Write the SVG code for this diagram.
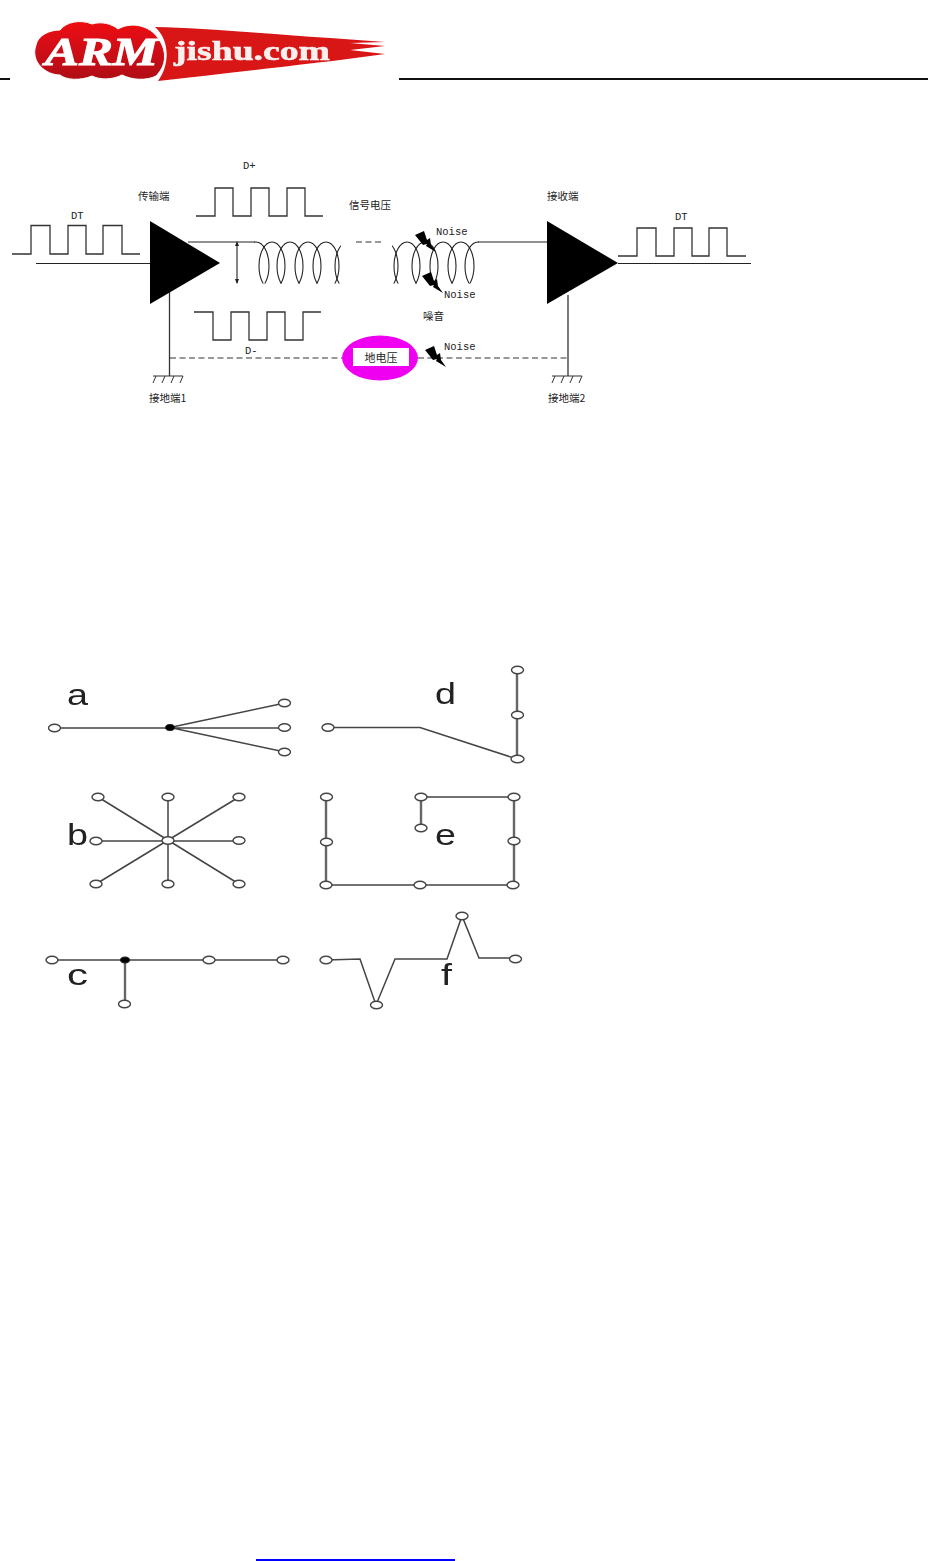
<svg xmlns="http://www.w3.org/2000/svg" width="928" height="1561" viewBox="0 0 928 1561">
<style>
.w{fill:none;stroke:#333;stroke-width:1.3}
.k{fill:none;stroke:#222;stroke-width:1.1}
.d{fill:none;stroke:#333;stroke-width:1.2;stroke-dasharray:6 3.5}
.cn{font-family:"Noto Sans CJK SC",sans-serif;font-size:10.5px;fill:#222}
.m{font-family:"Liberation Mono",monospace;font-size:10.5px;fill:#222}
.t{fill:none;stroke:#444;stroke-width:1.5}
.v{fill:none;stroke:#666;stroke-width:2.4}
.n{fill:#fff;stroke:#444;stroke-width:1.4}
.b{fill:#000;stroke:#222;stroke-width:1}
.l{font-family:"Liberation Sans",sans-serif;font-size:29px;fill:#222}
</style>
<defs>
<linearGradient id="rg" x1="0" y1="0" x2="0" y2="1"><stop offset="0" stop-color="#ee1111"/><stop offset="1" stop-color="#b01015"/></linearGradient>
<clipPath id="cl"><rect x="254" y="236" width="87" height="47.5"/></clipPath>
<clipPath id="cr"><rect x="392" y="236" width="87" height="47.5"/></clipPath>
<clipPath id="ct"><rect x="30" y="660" width="495.500" height="360"/></clipPath>
<filter id="s" x="-5%" y="-5%" width="110%" height="110%"><feGaussianBlur stdDeviation="0.45"/></filter>
<filter id="s2" x="-5%" y="-5%" width="110%" height="110%"><feGaussianBlur stdDeviation="0.3"/></filter>
<ellipse id="c" cx="0" cy="266" rx="13" ry="24" fill="none" stroke="#222" stroke-width="1.1"/>
<path id="bolt" d="M0 4 L9 0 L12 9 L15 7 L16 14 L21 21 L11 15 L12 13 L8 14 Z" fill="#000"/>
<path id="gnd" d="M0 0H30M3 0L0 7M12 0L9 7M21 0L18 7M30 0L27 7" fill="none" stroke="#333" stroke-width="1"/>
</defs>

<g id="header">
<path d="M0 79H10M399 79H928" stroke="#111" stroke-width="2" fill="none"/>
</g>
<g id="logo" filter="url(#s2)">
<path d="M155 27C200 28 260 33 330 38L385 42L350 43L385 46L350 50L385 54L340 60C290 66 220 74 158 81C170 65 170 40 155 27Z" fill="#d81316"/>
<path d="M36 45C38 35 50 30 60 30C66 22 80 19 92 24C102 21 112 24 118 29C132 21 150 26 158 38C168 52 166 66 156 76C146 81 132 80 122 75C112 80 100 80 92 76C80 81 66 80 60 75C46 75 30 62 36 45Z" fill="url(#rg)" stroke="#fff" stroke-width="1"/>
<text x="45" y="65" font-family="'Liberation Serif',serif" font-style="italic" font-weight="bold" font-size="39" fill="#fff" stroke="#fff" stroke-width="1" textLength="113" lengthAdjust="spacingAndGlyphs">ARM</text>
<text x="174" y="60" font-family="'Liberation Serif',serif" font-weight="bold" font-size="28" fill="#f8f0ee" stroke="#f8f0ee" stroke-width=".6" textLength="156" lengthAdjust="spacingAndGlyphs">jishu.com</text>
</g>

<g id="connectors">
<path class="w" d="M12 254H31V225.500H50V254H68V225.500H86V254H103V225.500H122V254H140"/>
<path class="k" d="M36 263.500H150"/>
<path class="w" d="M196 216H215V188H233V216H251V188H269V216H287V188H305V216H323"/>
<path class="w" d="M194 312H213V340H231V312H249V340H267V312H285V340H303V312H321"/>
<path class="k" d="M188 242H255M237 243V283"/>
<path d="M237 241L235 246H239ZM237 284L235 279H239Z" fill="#222"/>
<path class="d" d="M356 242H381"/>
<path class="k" d="M478 242H547"/>
<path class="k" d="M618 263.500H751"/>
<path class="w" d="M618 256H637V228H656V256H674V228H692V256H709V228H727V256H746"/>
<path class="w" d="M169.500 290V376"/>
<path class="w" d="M568 295V376" stroke-width="1.600"/>
<path class="d" d="M170 358H342"/>
<path class="d" d="M418 358H568"/>
<g clip-path="url(#cl)">
<use href="#c" x="256"/><use href="#c" x="272"/><use href="#c" x="290"/><use href="#c" x="308"/><use href="#c" x="326"/><use href="#c" x="348"/>
</g>
<g clip-path="url(#cr)">
<use href="#c" x="385"/><use href="#c" x="407"/><use href="#c" x="425"/><use href="#c" x="443"/><use href="#c" x="461"/><use href="#c" x="478"/>
</g>
<use href="#gnd" x="153" y="376"/>
<use href="#gnd" x="552" y="376"/>
</g>

<g id="tx-amp"><path d="M150 221L220 263L150 304Z" fill="#000"/></g>
<g id="rx-amp"><path d="M547 221L618 263L547 304Z" fill="#000"/></g>
<g id="ground-voltage">
<ellipse cx="380" cy="358" rx="38" ry="22.500" fill="#f000f0"/>
<rect x="353" y="348" width="56" height="18" fill="#fff"/>
<text class="cn" x="381" y="361.500" text-anchor="middle" style="font-size:11px">地电压</text>
</g>
<g id="noise-bolts">
<use href="#bolt" x="415" y="231"/>
<use href="#bolt" x="422" y="272"/>
<use href="#bolt" x="425" y="346"/>
</g>
<g id="labels">
<text class="m" x="71" y="219">DT</text>
<text class="m" x="243" y="169">D+</text>
<text class="m" x="245" y="354">D-</text>
<text class="m" x="675" y="220">DT</text>
<text class="m" x="436" y="235">Noise</text>
<text class="m" x="444" y="298">Noise</text>
<text class="m" x="444" y="349.500">Noise</text>
<text class="cn" x="138" y="200">传输端</text>
<text class="cn" x="349" y="209">信号电压</text>
<text class="cn" x="547" y="200">接收端</text>
<text class="cn" x="423" y="319.500">噪音</text>
<text class="cn" x="149" y="402">接地端1</text>
<text class="cn" x="548" y="402">接地端2</text>
</g>

<g id="topologies" filter="url(#s)" clip-path="url(#ct)">
<g id="topo-a">
<path class="t" d="M54 728H285M170 727.500L285 703M170 727.500L285 752"/>
<ellipse class="n" cx="54.500" cy="728" rx="6" ry="3.800"/>
<ellipse class="b" cx="170" cy="727.500" rx="4.500" ry="3"/>
<ellipse class="n" cx="284.500" cy="703" rx="6" ry="3.800"/>
<ellipse class="n" cx="284.500" cy="727.500" rx="6" ry="3.800"/>
<ellipse class="n" cx="284.500" cy="752" rx="6" ry="3.800"/>
<text class="l" x="67" y="705" textLength="21" lengthAdjust="spacingAndGlyphs">a</text>
</g>
<g id="topo-b">
<path class="t" d="M98 797L239 884M239 797L96 884M96 841H239M168 797V884"/>
<ellipse class="n" cx="168" cy="840.500" rx="6" ry="3.800"/>
<ellipse class="n" cx="98" cy="797" rx="6" ry="3.800"/>
<ellipse class="n" cx="168" cy="797" rx="6" ry="3.800"/>
<ellipse class="n" cx="239" cy="797" rx="6" ry="3.800"/>
<ellipse class="n" cx="96" cy="841" rx="6" ry="3.800"/>
<ellipse class="n" cx="239" cy="840.500" rx="6" ry="3.800"/>
<ellipse class="n" cx="96" cy="884" rx="6" ry="3.800"/>
<ellipse class="n" cx="168" cy="884" rx="6" ry="3.800"/>
<ellipse class="n" cx="239" cy="884" rx="6" ry="3.800"/>
<text class="l" x="67" y="845" textLength="21" lengthAdjust="spacingAndGlyphs">b</text>
</g>
<g id="topo-c">
<path class="t" d="M52 960H283"/>
<path class="v" d="M125 960V1004"/>
<ellipse class="n" cx="52" cy="960" rx="6" ry="3.800"/>
<ellipse class="b" cx="125" cy="960" rx="4.500" ry="3"/>
<ellipse class="n" cx="209" cy="960" rx="6" ry="3.800"/>
<ellipse class="n" cx="283" cy="960" rx="6" ry="3.800"/>
<ellipse class="n" cx="124.500" cy="1004" rx="6" ry="3.800"/>
<text class="l" x="67" y="985" textLength="21" lengthAdjust="spacingAndGlyphs">c</text>
</g>
<g id="topo-d">
<path class="t" d="M328 727.500H420L517 759"/>
<path class="v" d="M517 670V759"/>
<ellipse class="n" cx="328" cy="727.500" rx="6" ry="3.800"/>
<ellipse class="n" cx="517.500" cy="759" rx="6.500" ry="3.800"/>
<ellipse class="n" cx="517.500" cy="715" rx="6" ry="3.800"/>
<ellipse class="n" cx="517.500" cy="670" rx="6" ry="3.800"/>
<text class="l" x="435" y="704" textLength="21" lengthAdjust="spacingAndGlyphs">d</text>
</g>
<g id="topo-e">
<path class="v" d="M326 797V885M421 797V828M514 797V885"/>
<path class="t" d="M326 885H514M421 797H514"/>
<ellipse class="n" cx="326.500" cy="797" rx="6" ry="3.800"/>
<ellipse class="n" cx="326.500" cy="842" rx="6" ry="3.800"/>
<ellipse class="n" cx="326" cy="885" rx="6" ry="3.800"/>
<ellipse class="n" cx="420" cy="885" rx="6" ry="3.800"/>
<ellipse class="n" cx="513" cy="885" rx="6" ry="3.800"/>
<ellipse class="n" cx="514" cy="841" rx="6" ry="3.800"/>
<ellipse class="n" cx="514" cy="797" rx="6" ry="3.800"/>
<ellipse class="n" cx="421" cy="797" rx="6" ry="3.800"/>
<ellipse class="n" cx="421" cy="828" rx="6" ry="3.800"/>
<text class="l" x="435" y="845" textLength="21" lengthAdjust="spacingAndGlyphs">e</text>
</g>
<g id="topo-f">
<path class="t" d="M326 960L360 959L376 1005L395 959H447L462 916L479 958H515"/>
<ellipse class="n" cx="326" cy="960" rx="6" ry="3.800"/>
<ellipse class="n" cx="376.500" cy="1005" rx="6" ry="3.800"/>
<ellipse class="n" cx="462" cy="916" rx="6" ry="3.800"/>
<ellipse class="n" cx="515.500" cy="959" rx="6" ry="3.800"/>
<text class="l" x="441" y="985" textLength="11" lengthAdjust="spacingAndGlyphs">f</text>
</g>
</g>

<g id="footer"><path d="M256 1560H455" stroke="#0000ff" stroke-width="2" fill="none"/></g>
</svg>
